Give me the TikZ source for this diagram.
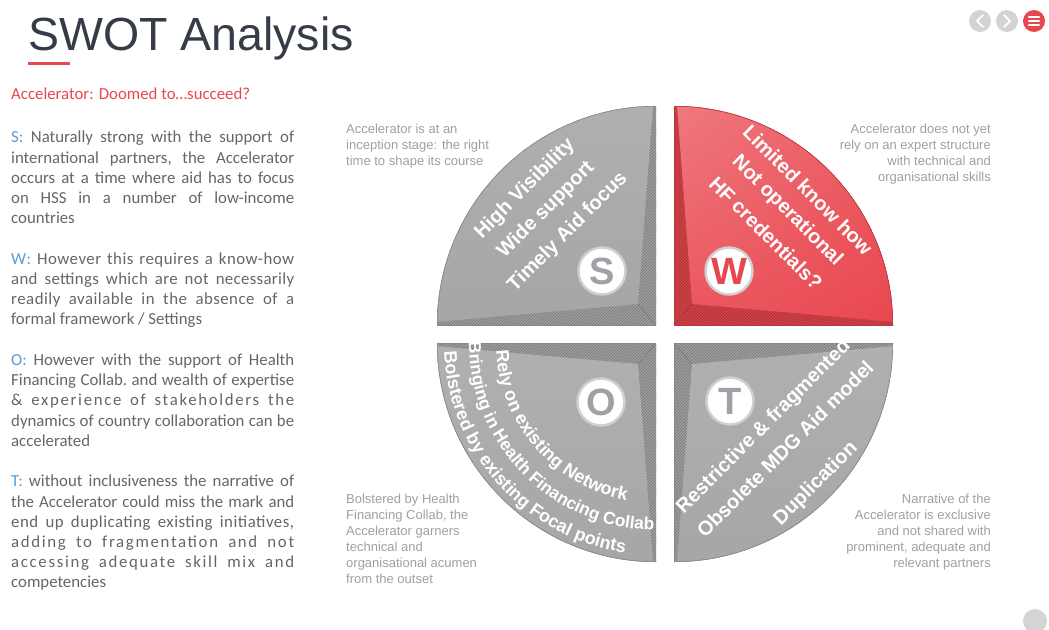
\documentclass[tikz,border=0pt]{standalone}
\usepackage{fontspec}
\setmainfont{Carlito}
\newfontfamily\arialf{Liberation Sans}
\usetikzlibrary{patterns,decorations.text,calc,shadings}
\definecolor{swred}{HTML}{E9474F}
\definecolor{titlec}{HTML}{353C47}
\definecolor{bodyc}{HTML}{666666}
\definecolor{swblue}{HTML}{5B9BD5}
\definecolor{notegray}{HTML}{A0A0A0}
\definecolor{ringgray}{HTML}{D0D0D0}
\definecolor{lettergray}{HTML}{A0A0A6}
\definecolor{bevgray}{HTML}{A0A0A0}
\definecolor{bevred}{HTML}{D9424A}
\definecolor{icongray}{HTML}{D3D3D3}
\newcommand\qfont{\arialf\bfseries\fontsize{20}{24}\selectfont}
\newcommand\otfont{\arialf\bfseries\fontsize{18}{20}\selectfont}
\newcommand\otfontb{\arialf\bfseries\fontsize{17.3}{20}\selectfont}
\newcommand\notefont{\arialf\fontsize{13}{16}\selectfont}
\newcommand\badgefont{\arialf\bfseries\fontsize{38}{38}\selectfont}
\newcommand\bodyfont{\fontsize{16.8}{20.2}\selectfont}
\newcommand\lsp[2]{{\addfontfeature{LetterSpace=#1}#2}}
% quadrant: cx cy sx sy facestyle bevelcolor
\newcommand\swq[6]{%
 \begin{scope}
  \clip (#1,#2) rectangle ++({(#3)*222},{(#4)*222});
  \clip (#1,#2) circle[radius=219];
  \fill[#6] (#1,#2) rectangle ++({(#3)*222},{(#4)*222});
  \fill[pattern=north east lines, pattern color=#6!72!black] (#1,#2) rectangle ++({(#3)*222},{(#4)*222});
  \shade[#5] ({#1+(#3)*18},{#2+(#4)*21}) -- ({#1+(#3)*2},{#2+(#4)*232}) -- ({#1+(#3)*232},{#2+(#4)*232}) -- ({#1+(#3)*232},{#2+(#4)*2}) -- cycle;
  \draw[#6!75!black, line width=0.5] (#1,#2) -- ({#1+(#3)*18},{#2+(#4)*21});
  \draw[#6!85!black, line width=1.2] (#1,#2) circle[radius=219];
  \draw[#6!85!black, line width=1] (#1,#2) rectangle ++({(#3)*222},{(#4)*222});
 \end{scope}}
\begin{document}
\begin{tikzpicture}[x=1pt,y=1pt,
  qtext/.style={font=\qfont, text=white, inner sep=0},
  note/.style={font=\notefont, text=notegray, inner sep=0},
  badge/.style={circle, fill=white, draw=ringgray, line width=2.4pt, minimum size=47pt, inner sep=0, font=\badgefont},
  faceS/.style={top color=black!31, bottom color=black!35},
  faceW/.style={upper left=swred!72, upper right=swred!88, lower left=swred!92, lower right=swred},
  faceG/.style={top color=black!31, bottom color=black!35},
  otext/.style={decorate, decoration={text along path, text align=center, text color=white}},
  icon/.style={circle, inner sep=0, minimum size=22pt}]
\useasboundingbox[fill=white] (0,0) rectangle (1049,-629);

% title
\node[anchor=base west, inner sep=0, font=\arialf\fontsize{46.5}{50}\selectfont, text=titlec] (title) at (28,-50) {SWOT Analysis};
\draw[swred, line width=3] (28,-63) -- (70,-63);
\node[anchor=base west, inner sep=0, font=\bodyfont, text=swred] (sub) at (11,-99) {Accelerator: Doomed to…succeed?};

% body text
\node[anchor=north west, inner sep=0, text width=283pt, align=justify, font=\bodyfont, text=bodyc] (body) at (11,-131) {%
\tolerance=10000 \hyphenpenalty=10000 \exhyphenpenalty=10000 \frenchspacing
\noindent\textcolor{swblue}{S:} Naturally strong with the support of\linebreak
international partners, the Accelerator\linebreak
occurs at a time where aid has to focus\linebreak
on HSS in a number of low-income\linebreak
countries\par\vskip20.4pt
\noindent\lsp{3}{\textcolor{swblue}{W:} However this requires a know-how}\linebreak
\lsp{2}{and settings which are not necessarily}\linebreak
\lsp{3}{readily available in the absence of a}\linebreak
formal framework / Settings\par\vskip20.4pt
\noindent\textcolor{swblue}{O:} However with the support of Health\linebreak
Financing Collab. and wealth of expertise\linebreak
\lsp{10}{\& experience of stakeholders the}\linebreak
dynamics of country collaboration can be\linebreak
accelerated\par\vskip20.4pt
\noindent\textcolor{swblue}{T:} without inclusiveness the narrative of\linebreak
the Accelerator could miss the mark and\linebreak
\lsp{3}{end up duplicating existing initiatives,}\linebreak
\lsp{10}{adding to fragmentation and not}\linebreak
\lsp{10}{accessing adequate skill mix and}\linebreak
competencies\par};

% quadrants
\swq{656}{-325}{-1}{1}{faceS}{bevgray}
\swq{674}{-325}{1}{1}{faceW}{bevred}
\swq{656}{-343}{-1}{-1}{faceG}{bevgray}
\swq{674}{-343}{1}{-1}{faceG}{bevgray}

% S texts
\node[qtext, rotate=45] (s1) at (525,-189) {High Visibility};
\node[qtext, rotate=45] (s2) at (546,-210) {Wide support};
\node[qtext, rotate=45] (s3) at (568,-232) {Timely Aid focus};
% W texts
\node[qtext, rotate=-45] (w1) at (808,-190) {Limited know how};
\node[qtext, rotate=-45] (w2) at (787,-211) {Not operational};
\node[qtext, rotate=-45] (w3) at (766,-233) {HF credentials?};
% T texts
\node[qtext, rotate=45] (t1) at (764,-427) {Restrictive \& fragmented};
\node[qtext, rotate=45] (t2) at (785,-449) {Obsolete MDG Aid model};
\node[qtext, rotate=45] (t3) at (816,-484) {Duplication};
% O curved texts
\coordinate (oc) at (656,-343);
\path[otext, decoration={text={|\otfont|Rely on existing Network}}] ($(oc)+(161:160)$) arc[start angle=161, end angle=281, radius=160];
\path[otext, decoration={text={|\otfontb|Bringing in Health Financing Collab}}] ($(oc)+(164.5:187)$) arc[start angle=164.5, end angle=284.5, radius=187];
\path[otext, decoration={text={|\otfont|Bolstered by existing Focal points}}] ($(oc)+(162:212)$) arc[start angle=162, end angle=282, radius=212];

% badges
\node[badge, text=lettergray] (bs) at (602,-271) {S};
\node[badge, text=swred] (bw) at (729,-271) {W};
\node[badge, text=lettergray] (bo) at (601,-402) {O};
\node[badge, text=lettergray] (bt) at (730,-401) {T};

% notes
\node[note, anchor=north west, align=left] (n1) at (346,-124) {Accelerator is at an\\inception stage: the right\\time to shape its course};
\node[note, anchor=north east, align=right] (n2) at (991,-124) {Accelerator does not yet\\rely on an expert structure\\with technical and\\organisational skills};
\node[note, anchor=north west, align=left] (n3) at (346,-494) {Bolstered by Health\\Financing Collab, the\\Accelerator garners\\technical and\\organisational acumen\\from the outset};
\node[note, anchor=north east, align=right] (n4) at (991,-494) {Narrative of the\\Accelerator is exclusive\\and not shared with\\prominent, adequate and\\relevant partners};

% icons
\node[icon, fill=icongray] (prev) at (980,-21) {};
\node[icon, fill=icongray] (next) at (1007,-21) {};
\node[icon, fill=swred] (menu) at (1034,-21) {};
\draw[white, line width=2, line cap=round, line join=round] ($(prev)+(3,6)$) -- ($(prev)+(-3,0)$) -- ($(prev)+(3,-6)$);
\draw[white, line width=2, line cap=round, line join=round] ($(next)+(-3,6)$) -- ($(next)+(3,0)$) -- ($(next)+(-3,-6)$);
\foreach \dy in {4,0,-4} \draw[white, line width=2.2, line cap=round] ($(menu)+(-5,\dy)$) -- ($(menu)+(5,\dy)$);
\node[icon, fill=black!17, minimum size=24pt] (dot) at (1035,-621) {};
\end{tikzpicture}
\end{document}
